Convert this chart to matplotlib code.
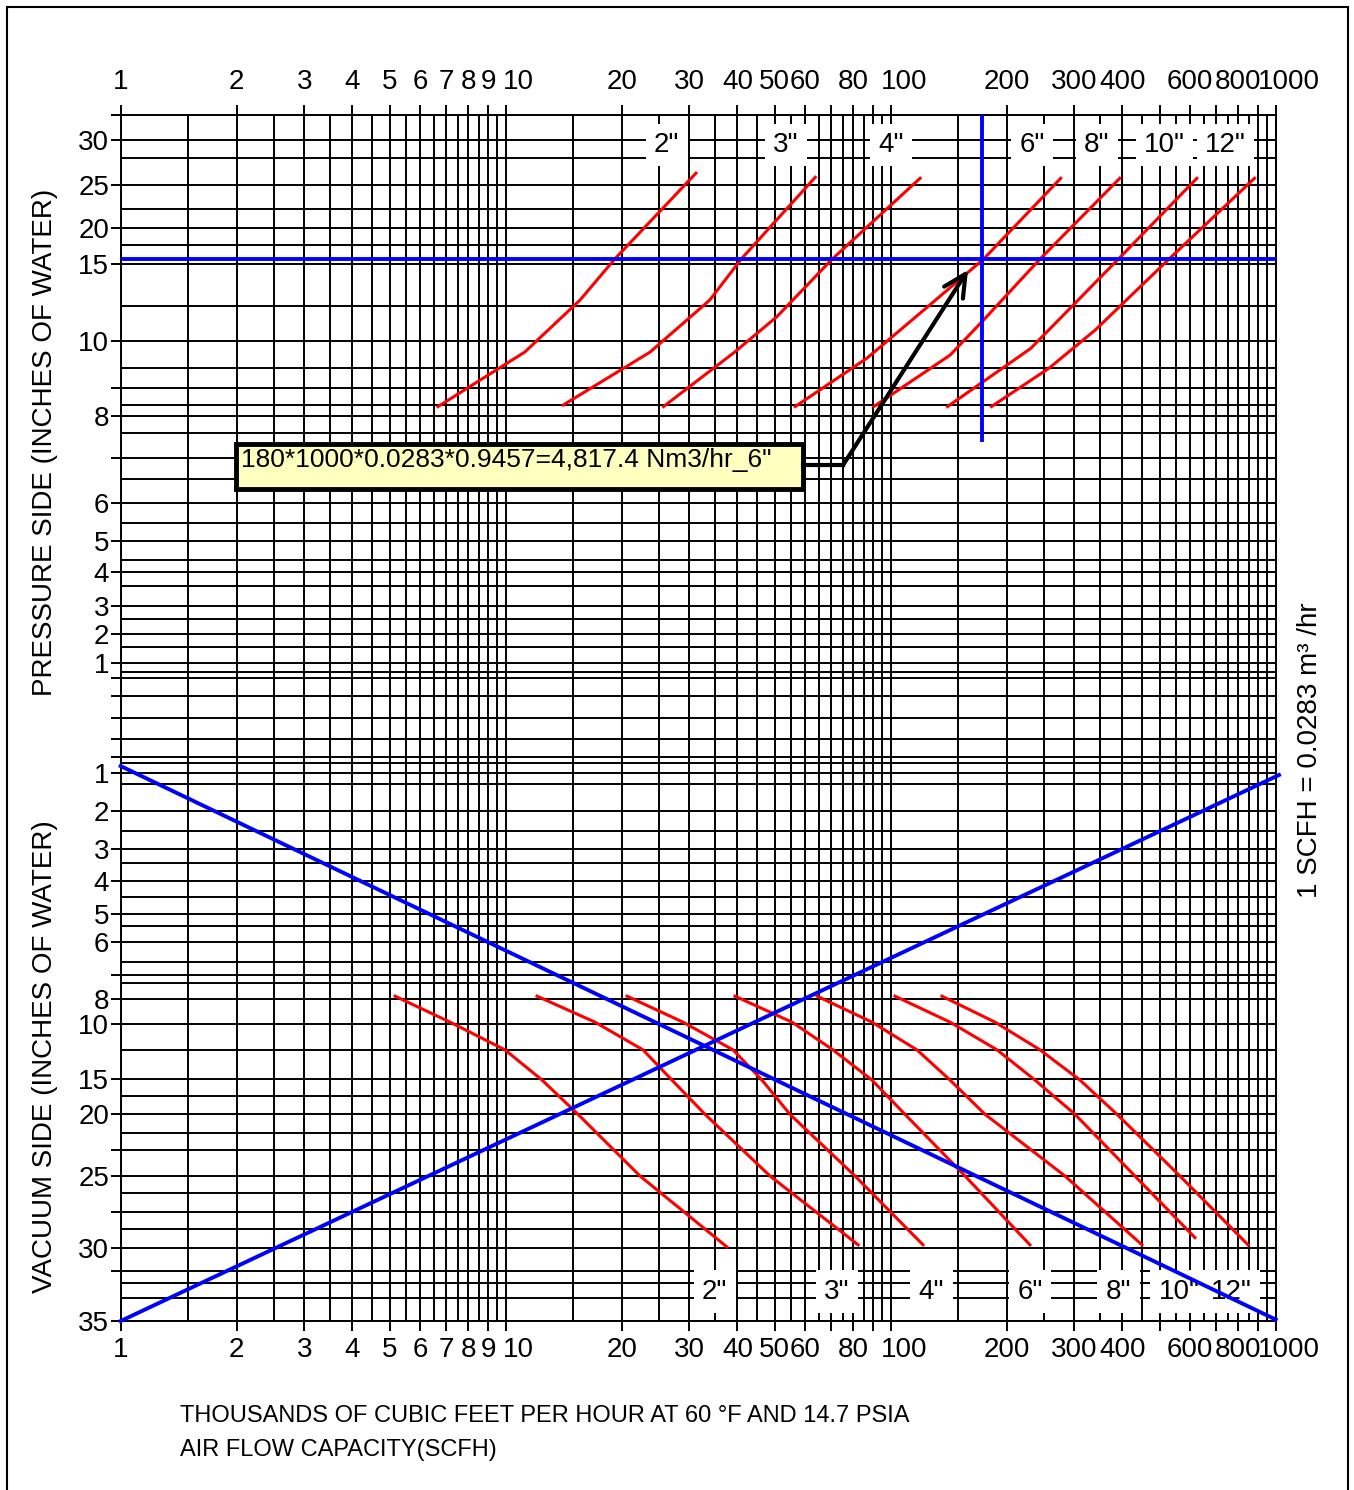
import numpy as np
import matplotlib
matplotlib.use("Agg")
import matplotlib.pyplot as plt
from matplotlib.ticker import FixedLocator, FuncFormatter, NullFormatter
from matplotlib.patches import Rectangle
from matplotlib.transforms import blended_transform_factory, offset_copy

plt.rcParams['font.family'] = ['Liberation Sans', 'DejaVu Sans']

W, H = 1354, 1490

# y axis is a hand made scale: signed inches of water (pressure +, vacuum -)
# mapped to a height on the chart (knots)
scale_vals = [-35, -30, -25, -20, -15, -10, -8, -6, -5, -4, -3, -2, -1,
              1, 2, 3, 4, 5, 6, 8, 10, 15, 20, 25, 30, 33]
scale_pos = [0, 73.3, 145, 206.7, 242, 297, 322, 378.7, 406.7, 440, 472, 510, 548.3,
             658.3, 687, 715.5, 749.3, 780.3, 817.7, 905.5, 980, 1056.7, 1093.3, 1136, 1181.5, 1206]


def fwd(v):
    return np.interp(v, scale_vals, scale_pos)


def inv(p):
    return np.interp(p, scale_pos, scale_vals)


# tick / grid layout of the chart paper
y_major = [30, 25, 20, 15, 10, 8, 6, 5, 4, 3, 2, 1,
           -1, -2, -3, -4, -5, -6, -8, -10, -15, -20, -25, -30, -35]
y_minor_ticked = [33, 8.73, 7.04, 0.72, 0.39, 0.0, -0.39, -0.71, -7.15, -22.9, -27.49, -31.59]
y_minor_plain = [28.0, 22.15, 17.64, 12.28, 9.27, 8.28, 7.61, 6.55, 5.47, 4.38, 3.58, 2.53,
                 1.54, 0.84, -0.82, -1.30, -2.52, -3.45, -4.47, -5.42, -6.69, -7.45,
                 -12.36, -17.37, -21.5, -26.16, -28.72, -32.43, -33.45]
x_major = [1, 2, 3, 4, 5, 6, 7, 8, 9, 10, 20, 30, 40, 50, 60, 80, 100,
           200, 300, 400, 600, 800, 1000]
x_minor_ticked = [70, 90, 500, 700, 900]
x_grid = [m * d for d in (1, 10, 100) for m in np.arange(1, 10, 0.5)] + [1000]

# pressure side curves (thousand SCFH, inches of water)
sizes = ['2"', '3"', '4"', '6"', '8"', '10"', '12"']
press_x = [
    [6.67, 11.2, 15.6, 19.2, 31.2],
    [14.1, 23.7, 33.9, 40.9, 63.7],
    [25.7, 39.3, 50.6, 70.5, 119.2],
    [56.5, 86.8, 130.8, 174.3, 276.4],
    [90.4, 142.6, 174.3, 244.3, 393.6],
    [140.5, 231, 390.3, 624.1],
    [182.7, 257.8, 340, 528.4, 881],
]
press_y = [
    [8.24, 9.70, 12.67, 15.72, 26.3],
    [8.28, 9.70, 12.67, 15.72, 25.85],
    [8.24, 9.70, 11.58, 15.72, 25.74],
    [8.24, 9.54, 12.67, 15.72, 25.74],
    [8.24, 9.62, 11.37, 15.72, 25.74],
    [8.24, 9.80, 15.72, 25.74],
    [8.24, 9.27, 10.72, 15.72, 25.74],
]

# vacuum side curves (vacuum given negative)
vac_x = [
    [5.16, 7.17, 9.96, 12.43, 15.41, 22.33, 37.57],
    [12.06, 17.06, 22.73, 27.03, 32.94, 48.6, 82.3],
    [20.66, 28.87, 38.95, 46.31, 54.75, 80.8, 121.3],
    [39.4, 55.4, 70.8, 89.4, 108.9, 156, 230],
    [64.4, 89.4, 117, 142.6, 175.8, 283.6, 449.5],
    [102.6, 142.6, 188.9, 237, 301.1, 430.9, 617.1],
    [135.9, 186.6, 244.3, 310.2, 387.0, 564.0, 847.5],
]
vac_y = [
    [-7.9, -9.85, -12.35, -15.15, -20, -25, -29.95],
    [-7.9, -9.85, -12.35, -15.15, -20, -25, -29.8],
    [-7.9, -9.85, -12.35, -15.15, -20, -25, -29.8],
    [-7.9, -9.85, -12.35, -15.15, -20, -25, -29.8],
    [-7.9, -9.85, -12.35, -15.15, -20, -25, -29.8],
    [-7.9, -9.85, -12.35, -15.15, -20, -25, -29.3],
    [-7.9, -9.85, -12.35, -15.15, -20, -25, -29.8],
]

# size label spots
press_lab_x = [26.2, 53.5, 100.2, 232.9, 343.4, 514.3, 740.6]
vac_lab_x = [34.9, 72.5, 127.6, 229.8, 390.4, 561.7, 767.3]

# worked example: 180 thousand SCFH at about 15.7" for 6"
ex_flow = 173
ex_press = 15.72
diag_a_x, diag_a_y = [1, 1000], [-0.88, -34.9]
diag_b_x, diag_b_y = [1, 1020], [-35, -1.06]

fig = plt.figure(figsize=(W / 100, H / 100), dpi=100)
ax = fig.add_axes([120.7 / W, 1 - 1321 / H, (1275.7 - 120.7) / W, (1321 - 115) / H])
ax.set_xscale('log')
ax.set_yscale('function', functions=(fwd, inv))
ax.set_xlim(1, 1000)
ax.set_ylim(-35, 33)

# chart paper grid
for v in x_grid:
    ax.axvline(v, color='k', lw=1.4, zorder=1)
for v in y_major + y_minor_ticked + y_minor_plain:
    ax.axhline(v, color='k', lw=1.4, zorder=1)

ax.xaxis.set_major_locator(FixedLocator(x_major))
ax.xaxis.set_major_formatter(NullFormatter())
ax.xaxis.set_minor_locator(FixedLocator(x_minor_ticked))
ax.xaxis.set_minor_formatter(NullFormatter())
ax.yaxis.set_major_locator(FixedLocator(y_major))
ax.yaxis.set_major_formatter(FuncFormatter(lambda v, p: f"{abs(v):g}"))
ax.yaxis.set_minor_locator(FixedLocator(y_minor_ticked))
ax.yaxis.set_minor_formatter(NullFormatter())
ax.tick_params(axis='x', which='both', top=True, bottom=True, labeltop=False,
               labelbottom=False, direction='out', length=7.2, width=1.4)
ax.tick_params(axis='y', which='both', left=True, right=False, direction='out',
               length=7.2, width=1.4, labelsize=20, pad=1)
for s in ax.spines.values():
    s.set_linewidth(1.4)

# x labels top and bottom; the decade labels sit a little right of their tick
xt = blended_transform_factory(ax.transData, ax.transAxes)
for v in x_major:
    dx = 13 if v in (10, 100, 1000) else 0
    top_t = offset_copy(xt, fig=fig, x=dx, y=33, units='dots')
    bot_t = offset_copy(xt, fig=fig, x=dx, y=-29, units='dots')
    ax.text(v, 1, f"{v:g}", transform=top_t, ha='center', va='center',
            fontsize=20, clip_on=False)
    ax.text(v, 0, f"{v:g}", transform=bot_t, ha='center', va='center',
            fontsize=20, clip_on=False)

# red curves
for xs, ys in zip(press_x, press_y):
    ax.plot(xs, ys, color='#FF0000', lw=2.2, zorder=3)
for xs, ys in zip(vac_x, vac_y):
    ax.plot(xs, ys, color='#FF0000', lw=2.2, zorder=3)

# size labels
for s, x in zip(sizes, press_lab_x):
    ax.text(x, 29.4, s, ha='center', va='center', fontsize=20, zorder=4,
            bbox=dict(boxstyle='square,pad=0.3', fc='white', ec='none'))
for s, x in zip(sizes, vac_lab_x):
    ax.text(x, -33.0, s, ha='center', va='center', fontsize=20, zorder=4,
            bbox=dict(boxstyle='square,pad=0.3', fc='white', ec='none'))

# blue lines
ax.axhline(ex_press, color='#0000FF', lw=2.8, zorder=5)
ax.plot([ex_flow, ex_flow], [7.44, 33], color='#0000FF', lw=2.8, zorder=5)
ax.plot(diag_a_x, diag_a_y, color='#0000FF', lw=2.8, zorder=5, clip_on=False)
ax.plot(diag_b_x, diag_b_y, color='#0000FF', lw=2.8, zorder=5, clip_on=False)

# callout box + arrow
ax.add_patch(Rectangle((1.99, 6.33), 59.2 - 1.99, 7.35 - 6.33, fc='#FFFFC0',
                       ec='k', lw=3.5, zorder=6))
ax.text(2.05, 6.99, '180*1000*0.0283*0.9457=4,817.4 Nm3/hr_6"', ha='left',
        va='center', fontsize=19, zorder=7)
ax.plot([59.2, 75.2], [6.87, 6.87], color='k', lw=3, zorder=6)
ax.annotate('', xy=(158.8, 14.63), xytext=(75.2, 6.87), zorder=6,
            arrowprops=dict(arrowstyle='->', lw=3, color='k', mutation_scale=40,
                            shrinkA=0, shrinkB=0))

# axis titles
fig.text(45 / W, 1 - 442 / H, 'PRESSURE SIDE (INCHES OF WATER)', rotation=90,
         ha='center', va='center', fontsize=20)
fig.text(45 / W, 1 - 1057 / H, 'VACUUM SIDE (INCHES OF WATER)', rotation=90,
         ha='center', va='center', fontsize=20)
fig.text(1310 / W, 1 - 750 / H, '1 SCFH = 0.0283 m³ /hr', rotation=90,
         ha='center', va='center', fontsize=20)
fig.text(180 / W, 1 - 1416 / H,
         'THOUSANDS OF CUBIC FEET PER HOUR AT 60 °F AND 14.7 PSIA',
         ha='left', va='center', fontsize=17)
fig.text(180 / W, 1 - 1450 / H, 'AIR FLOW CAPACITY(SCFH)', ha='left',
         va='center', fontsize=17)

# outer frame
fig.add_artist(Rectangle((7 / W, -0.01), (1348 - 7) / W, 1 - 7 / H + 0.01,
                         transform=fig.transFigure, fill=False, ec='k', lw=1.5))

fig.savefig('out.png', dpi=100)
